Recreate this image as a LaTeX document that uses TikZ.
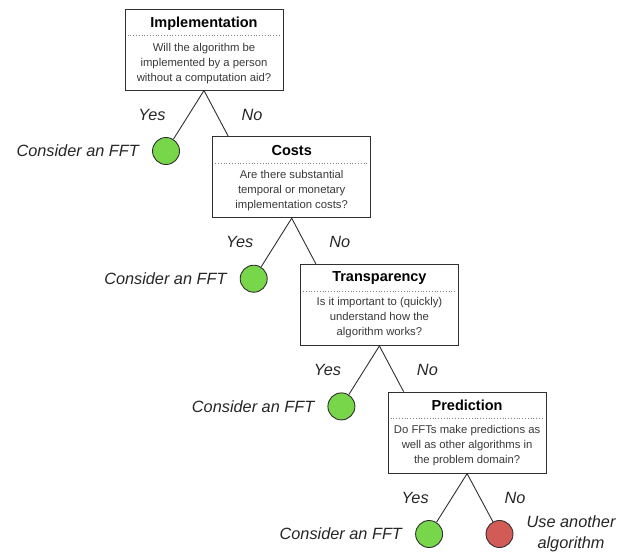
\documentclass[tikz,border=0pt]{standalone}
\usepackage{fontspec}
\setmainfont{Liberation Sans}
\usetikzlibrary{calc}
\definecolor{leafgreen}{HTML}{78D64B}
\definecolor{leafred}{HTML}{D35B57}
\definecolor{edgegray}{HTML}{303030}
\definecolor{bodygray}{HTML}{3A3A3A}
\begin{document}
\begin{tikzpicture}[x=1pt,y=-1pt,
  qbox/.style={draw=edgegray,line width=1pt,rectangle,minimum width=158pt,minimum height=81pt,inner sep=0pt,fill=white},
  qtitle/.style={font=\fontsize{14.5}{17}\selectfont\bfseries,inner sep=0pt,text=black},
  qbody/.style={font=\fontsize{11.3}{15}\selectfont,align=center,inner sep=0pt,text=bodygray},
  sep/.style={draw=gray,dotted,line width=0.8pt},
  leaf/.style={circle,draw=edgegray,line width=0.9pt,minimum size=27pt,inner sep=0pt},
  conn/.style={draw=edgegray,line width=0.9pt},
  lab/.style={font=\fontsize{16.3}{21}\selectfont\itshape,inner sep=0pt,text=black!85},
]
\useasboundingbox (0,0) rectangle (628,552);

% boxes
\node[qbox] (b1) at (204,49.5) {};
\node[qbox] (b2) at (291.7,177.2) {};
\node[qbox] (b3) at (379.4,304.9) {};
\node[qbox] (b4) at (467.1,432.6) {};

% titles
\node[qtitle] (t1) at ($(b1.north)+(0,15)$) {Implementation};
\node[qtitle] (t2) at ($(b2.north)+(0,14)$) {Costs};
\node[qtitle] (t3) at ($(b3.north)+(0,14)$) {Transparency};
\node[qtitle] (t4) at ($(b4.north)+(0,14)$) {Prediction};

% separators
\foreach \b in {b1,b2,b3,b4}{
  \draw[sep] ($(\b.north west)+(3,27)$) -- ($(\b.north east)+(-3,27)$);
}

% bodies
\node[qbody] (q1) at ($(b1.north)+(0,55)$) {Will the algorithm be\\implemented by a person\\without a computation aid?};
\node[qbody] (q2) at ($(b2.north)+(0,54)$) {Are there substantial\\temporal or monetary\\implementation costs?};
\node[qbody] (q3) at ($(b3.north)+(0,54)$) {Is it important to (quickly)\\understand how the\\algorithm works?};
\node[qbody] (q4) at ($(b4.north)+(0,54)$) {Do FFTs make predictions as\\well as other algorithms in\\the problem domain?};

% leaves
\node[leaf,fill=leafgreen] (c1) at (166,151) {};
\node[leaf,fill=leafgreen] (c2) at (253.7,278.7) {};
\node[leaf,fill=leafgreen] (c3) at (341.4,406.4) {};
\node[leaf,fill=leafgreen] (c4) at (429.1,534) {};
\node[leaf,fill=leafred] (c5) at (499.5,534) {};

% connectors
\draw[conn] (b1.south) -- (c1);
\draw[conn] (b2.south) -- (c2);
\draw[conn] (b3.south) -- (c3);
\draw[conn] (b4.south) -- (c4);
\draw[conn] (b4.south) -- (c5);
\coordinate (e2) at ($(b2.north west)+(16,0)$);
\coordinate (e3) at ($(b3.north west)+(16,0)$);
\coordinate (e4) at ($(b4.north west)+(16,0)$);
\draw[conn] (b1.south) -- (e2);
\draw[conn] (b2.south) -- (e3);
\draw[conn] (b3.south) -- (e4);

% yes/no labels
\foreach \b/\i in {b1/1,b2/2,b3/3,b4/4}{
  \node[lab] (y\i) at ($(\b.south)+(-52,24)$) {Yes};
  \node[lab] (n\i) at ($(\b.south)+(48,24)$) {No};
}

% leaf labels
\node[lab,anchor=east] (l1) at ($(c1.west)+(-13,0)$) {Consider an FFT};
\node[lab,anchor=east] (l2) at ($(c2.west)+(-13,0)$) {Consider an FFT};
\node[lab,anchor=east] (l3) at ($(c3.west)+(-13,0)$) {Consider an FFT};
\node[lab,anchor=east] (l4) at ($(c4.west)+(-13,0)$) {Consider an FFT};
\node[lab,align=center,anchor=west,font=\fontsize{16.3}{21}\selectfont\itshape] (l5) at ($(c5.east)+(13,0)$) {Use another\\algorithm};
\end{tikzpicture}
\end{document}
